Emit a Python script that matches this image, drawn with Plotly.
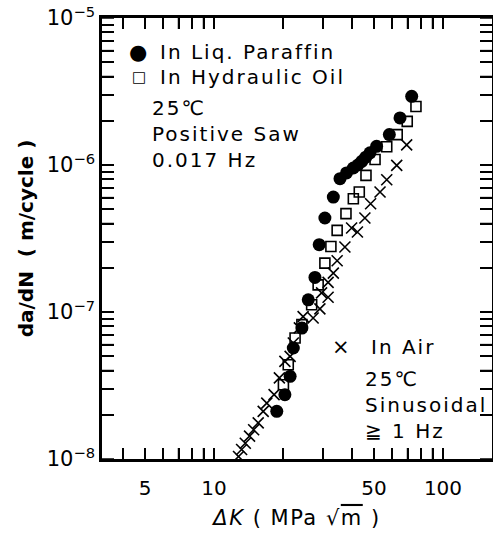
import plotly.graph_objects as go

# In Liq. Paraffin (filled circles)
par_dk = [18.8, 20.4, 21.5, 22.2, 24.2, 25.8, 27.6, 28.8, 30.5, 33.2, 35.5, 37.9, 40.6, 42.5, 44.2, 46.0, 48.0, 51.3, 58.3, 64.9, 73.0]
par_da = [2.11e-8, 2.74e-8, 3.65e-8, 5.69e-8, 7.78e-8, 1.21e-7, 1.72e-7, 2.87e-7, 4.36e-7, 6.05e-7, 8.07e-7, 8.83e-7, 9.54e-7, 1.0e-6, 1.06e-6, 1.13e-6, 1.21e-6, 1.34e-6, 1.61e-6, 2.09e-6, 2.93e-6]

# In Hydraulic Oil (open squares)
oil_dk = [20.1, 21.1, 22.6, 24.2, 26.7, 28.5, 30.5, 32.4, 34.5, 37.7, 40.6, 43.1, 46.1, 50.5, 56.8, 63.1, 69.8, 76.2]
oil_da = [3.2e-8, 4.38e-8, 6.65e-8, 8.2e-8, 1.12e-7, 1.53e-7, 2.15e-7, 2.79e-7, 3.59e-7, 4.67e-7, 5.9e-7, 6.55e-7, 8.5e-7, 1.09e-6, 1.33e-6, 1.61e-6, 1.98e-6, 2.50e-6]

# In Air (crosses)
air_dk = [12.8, 13.2, 13.7, 14.3, 14.9, 15.6, 16.4, 17.0, 18.3, 19.3, 20.4, 21.5, 22.2, 23.6, 24.5, 27.1, 29.0, 31.5, 29.5, 31.5, 33.2, 34.5, 37.3, 39.9, 42.3, 45.6, 48.3, 53.1, 56.8, 62.8, 69.4]
air_da = [1.04e-8, 1.16e-8, 1.28e-8, 1.43e-8, 1.58e-8, 1.76e-8, 2.11e-8, 2.4e-8, 2.74e-8, 3.56e-8, 4.61e-8, 4.99e-8, 6.15e-8, 7.8e-8, 9.3e-8, 9.1e-8, 1.05e-7, 1.26e-7, 1.35e-7, 1.59e-7, 1.84e-7, 2.23e-7, 2.77e-7, 3.73e-7, 3.5e-7, 4.36e-7, 5.45e-7, 6.55e-7, 7.94e-7, 9.94e-7, 1.37e-6]

series_names = ["In Liq. Paraffin", "In Hydraulic Oil", "In Air"]

x_labeled = {5: "5", 10: "10", 50: "50", 100: "100"}
x_ticks_all = [4, 5, 6, 7, 8, 9, 10, 20, 30, 40, 50, 60, 70, 80, 90, 100]
y_labeled = {-8: "10<sup>−8</sup>", -7: "10<sup>−7</sup>", -6: "10<sup>−6</sup>", -5: "10<sup>−5</sup>"}
y_exps = [-8, -7, -6]

x_tickvals = x_ticks_all
x_ticktext = [x_labeled.get(v, "") for v in x_ticks_all]
y_tickvals, y_ticktext = [], []
for e in y_exps:
    for m in range(1, 10):
        y_tickvals.append(m * 10.0 ** e)
        y_ticktext.append(y_labeled[e] if m == 1 else "")
y_tickvals.append(1e-5)
y_ticktext.append(y_labeled[-5])

FONT = "DejaVu Sans, Noto Sans CJK JP, sans-serif"
SP = "<span style='letter-spacing:2px'>{}</span>"
PLOT_W, PLOT_H = 390, 441
XTICK_LEN, YTICK_LEN = 11, 12


def tfont(size):
    return dict(size=size, family=FONT, color="black")


fig = go.Figure()
fig.add_trace(go.Scatter(x=par_dk, y=par_da, mode="markers", name=series_names[0], showlegend=False,
                         marker=dict(symbol="circle", size=13, color="black")))
fig.add_trace(go.Scatter(x=oil_dk, y=oil_da, mode="markers", name=series_names[1], showlegend=False,
                         marker=dict(symbol="square-open", size=10, color="black", line=dict(width=1.6))))
fig.add_trace(go.Scatter(x=air_dk, y=air_da, mode="markers", name=series_names[2], showlegend=False,
                         marker=dict(symbol="x-thin", size=11, color="black", line=dict(width=1.6, color="black"))))

# tick marks on all four sides, placed at the axis tick values
tick_line = dict(color="black", width=1.5)
shapes = []
for v in x_tickvals:
    shapes.append(dict(type="line", xref="x", yref="paper", x0=v, x1=v, y0=0, y1=XTICK_LEN / PLOT_H, line=tick_line))
    shapes.append(dict(type="line", xref="x", yref="paper", x0=v, x1=v, y0=1, y1=1 - XTICK_LEN / PLOT_H, line=tick_line))
for v in y_tickvals:
    shapes.append(dict(type="line", xref="paper", yref="y", x0=0, x1=YTICK_LEN / PLOT_W, y0=v, y1=v, line=tick_line))
    shapes.append(dict(type="line", xref="paper", yref="y", x0=1, x1=1 - YTICK_LEN / PLOT_W, y0=v, y1=v, line=tick_line))

ann = []
ann.append(dict(x=0.0923, y=0.923, text="●", font=tfont(21), xanchor="center", yanchor="middle"))
ann.append(dict(x=0.1436, y=0.923, text=SP.format(series_names[0]), font=tfont(20), xanchor="left", yanchor="middle"))
ann.append(dict(x=0.0945, y=0.866, text="□", font=tfont(15), xanchor="center", yanchor="middle"))
ann.append(dict(x=0.1436, y=0.866, text=SP.format(series_names[1]), font=tfont(20), xanchor="left", yanchor="middle"))
ann.append(dict(x=0.613, y=0.254, text="×", font=tfont(21), xanchor="center", yanchor="middle"))
ann.append(dict(x=0.684, y=0.254, text=SP.format(series_names[2]), font=tfont(20), xanchor="left", yanchor="middle"))
ann.append(dict(x=0.123, y=0.827, xanchor="left", yanchor="top", align="left",
                text="<br>".join(SP.format(t) for t in ["25℃", "Positive Saw", "0.017 Hz"]), font=tfont(20)))
ann.append(dict(x=0.67, y=0.213, xanchor="left", yanchor="top", align="left",
                text="<br>".join(SP.format(t) for t in ["25℃", "Sinusoidal", "≧ 1 Hz"]), font=tfont(20)))
for a in ann:
    a.update(xref="paper", yref="paper", showarrow=False)

fig.update_layout(
    template="none",
    width=493, height=534,
    showlegend=False,
    margin=dict(l=102, r=1, t=18, b=75),
    xaxis=dict(type="log", range=[0.511, 2.214], tickmode="array", tickvals=x_tickvals, ticktext=x_ticktext,
               ticks="inside", ticklen=XTICK_LEN, tickwidth=1.5, tickcolor="black",
               showline=True, linecolor="black", linewidth=2.5, mirror="ticks",
               showgrid=False, zeroline=False, ticklabelstandoff=9,
               tickfont=tfont(20),
               title=dict(text="\u00a0\u00a0\u00a0<span style='letter-spacing:1.5px'><i>ΔK</i> ( MPa √<span style='text-decoration:overline'>m</span> )</span>",
                          font=tfont(21), standoff=12)),
    yaxis=dict(type="log", range=[-8, -5], tickmode="array", tickvals=y_tickvals, ticktext=y_ticktext,
               ticks="inside", ticklen=YTICK_LEN, tickwidth=1.5, tickcolor="black",
               showline=True, linecolor="black", linewidth=2.5, mirror="ticks",
               showgrid=False, zeroline=False,
               tickfont=tfont(21),
               title=dict(text="<b>da/dN  ( m/cycle )</b>", font=tfont(20), standoff=8)),
    annotations=ann,
    shapes=shapes,
)

fig.write_html("out.html", config={"displayModeBar": False},
               post_script="document.body.style.margin='0';document.body.style.overflow='hidden';")
